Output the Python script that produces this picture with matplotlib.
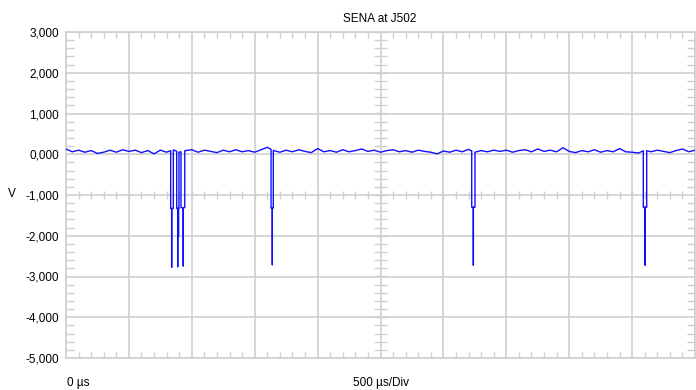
import numpy as np
import matplotlib
matplotlib.use("Agg")
import matplotlib.pyplot as plt
from matplotlib.ticker import MultipleLocator, FuncFormatter

plt.rcParams['font.family'] = ['Liberation Sans', 'DejaVu Sans']

# baseline of the trace (V), read every 50 us from 0 to 5000 us
baseline_v = [
    0.13, 0.06, 0.10, 0.05, 0.09, 0.02, 0.05, 0.10, 0.05, 0.11,
    0.07, 0.10, 0.04, 0.09, 0.01, 0.10, 0.05, 0.11, 0.05, 0.09,
    0.11, 0.05, 0.10, 0.07, 0.04, 0.10, 0.06, 0.11, 0.06, 0.09,
    0.05, 0.11, 0.17, 0.09, 0.05, 0.10, 0.06, 0.11, 0.07, 0.04,
    0.14, 0.06, 0.09, 0.05, 0.11, 0.06, 0.09, 0.13, 0.07, 0.10,
    0.05, 0.09, 0.11, 0.06, 0.09, 0.05, 0.10, 0.07, 0.05, 0.01,
    0.08, 0.05, 0.10, 0.06, 0.12, 0.05, 0.09, 0.06, 0.10, 0.07,
    0.10, 0.05, 0.09, 0.11, 0.06, 0.13, 0.07, 0.10, 0.06, 0.16,
    0.07, 0.04, 0.09, 0.06, 0.11, 0.05, 0.09, 0.06, 0.14, 0.06,
    0.05, 0.03, 0.10, 0.06, 0.10, 0.07, 0.04, 0.09, 0.13, 0.06,
    0.10,
]

# pulses (us / V)
pulse_start = [832, 880, 914, 1630, 3225, 4589]
pulse_end = [853, 898, 944, 1648, 3251, 4616]
pulse_level = [-1.33, -1.33, -1.31, -1.32, -1.30, -1.30]
spike_time = [840, 888, 932, 1640, 3238, 4603]
spike_v = [-2.77, -2.76, -2.74, -2.71, -2.72, -2.72]
# extra short dip inside the second pulse
extra_time = [894]
extra_v = [-2.03]

t_base = np.linspace(0, 5000, len(baseline_v))

# build the trace
ts, vs = [], []
i = 0
for k in range(len(pulse_start)):
    while i < len(t_base) and t_base[i] < pulse_start[k]:
        ts.append(t_base[i]); vs.append(baseline_v[i]); i += 1
    b0 = np.interp(pulse_start[k], t_base, baseline_v)
    b1 = np.interp(pulse_end[k], t_base, baseline_v)
    lvl = pulse_level[k]
    pts = [(pulse_start[k], b0), (pulse_start[k], lvl),
           (spike_time[k], lvl), (spike_time[k], spike_v[k]), (spike_time[k], lvl)]
    for et, ev in zip(extra_time, extra_v):
        if pulse_start[k] < et < pulse_end[k]:
            pts += [(et, lvl), (et, ev), (et, lvl)]
    pts += [(pulse_end[k], lvl), (pulse_end[k], b1)]
    for t, v in pts:
        ts.append(t); vs.append(v)
    while i < len(t_base) and t_base[i] <= pulse_end[k]:
        i += 1
while i < len(t_base):
    ts.append(t_base[i]); vs.append(baseline_v[i]); i += 1

fig = plt.figure(figsize=(6.96, 3.9), dpi=100)
ax = fig.add_axes([66 / 696, 32 / 390, 629 / 696, 326 / 390])

gray = '#cfcfcf'
ax.set_xlim(0, 5000)
ax.set_ylim(-5, 3)
ax.xaxis.set_major_locator(MultipleLocator(500))
ax.yaxis.set_major_locator(MultipleLocator(1))
ax.xaxis.set_minor_locator(MultipleLocator(100))
ax.yaxis.set_minor_locator(MultipleLocator(0.2))
ax.grid(True, which='major', color=gray, linewidth=1.2)
ax.set_axisbelow(True)
for s in ax.spines.values():
    s.set_color(gray)
    s.set_linewidth(1.2)

ax.set_xticklabels([])
ax.yaxis.set_major_formatter(FuncFormatter(lambda v, p: f"{v:.3f}".replace('.', ',')))
ax.tick_params(axis='both', which='major', length=0, labelsize=8.5, pad=5)
ax.tick_params(axis='x', which='minor', direction='in', length=4, color=gray,
               width=1, top=True, bottom=True)
ax.tick_params(axis='y', which='minor', direction='in', length=6, color=gray,
               width=1, left=True, right=True)

# center axis ticks
minor_x = np.arange(0, 5001, 100)
minor_y = np.arange(-5, 3.01, 0.2)
ax.vlines(minor_x, -1.11, -0.89, color=gray, linewidth=1, zorder=1)
ax.hlines(minor_y, 2452, 2548, color=gray, linewidth=1, zorder=1)

ax.plot(ts, vs, color='#1010ff', linewidth=1.0, zorder=3)

fig.text(380 / 696, 1 - 19 / 390, 'SENA at J502', ha='center', va='center', fontsize=8.5)
fig.text(12 / 696, 1 - 194 / 390, 'V', ha='center', va='center', fontsize=8.5)
fig.text(67 / 696, 1 - 383 / 390, '0 µs', ha='left', va='center', fontsize=8.5)
fig.text(381 / 696, 1 - 383 / 390, '500 µs/Div', ha='center', va='center', fontsize=8.5)

fig.savefig('out.png', dpi=100)
